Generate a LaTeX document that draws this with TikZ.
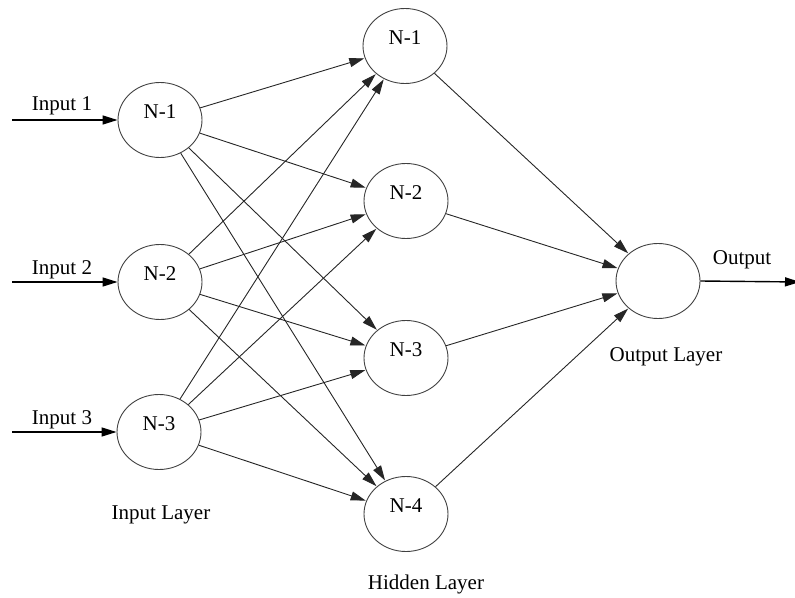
\documentclass[tikz,border=0pt]{standalone}
\usepackage{fontspec}
\setmainfont{Liberation Serif}
\usetikzlibrary{arrows.meta,shapes.geometric}
\begin{document}
\begin{tikzpicture}[x=1pt,y=-1pt,
  neuron/.style={draw=black!75,line width=0.9pt,ellipse,minimum width=84pt,minimum height=75pt,inner sep=0pt},
  nlabel/.style={inner sep=0pt,font=\fontsize{21}{25}\selectfont},
  txt/.style={inner sep=0pt,font=\fontsize{21}{25}\selectfont},
  edge/.style={draw=black!85,line width=0.9pt,-{Triangle[length=15pt,width=9pt]},shorten >=0.5pt},
  io/.style={draw=black,line width=1.4pt,-{Triangle[length=15pt,width=9pt]}}]
\useasboundingbox (0,0) rectangle (795,597);
% input layer
\node[neuron] (i1) at (160,120) {};
\node[neuron] (i2) at (160,282) {};
\node[neuron] (i3) at (159,432) {};
% hidden layer
\node[neuron] (h1) at (405,46) {};
\node[neuron] (h2) at (406,201) {};
\node[neuron] (h3) at (406,358) {};
\node[neuron] (h4) at (406,514) {};
% output
\node[neuron] (o) at (658,281) {};
% node labels
\node[nlabel] (i1t) at ([yshift=8pt]i1.center) {N-1};
\node[nlabel] (i2t) at ([yshift=8pt]i2.center) {N-2};
\node[nlabel] (i3t) at ([yshift=8pt]i3.center) {N-3};
\node[nlabel] (h1t) at ([yshift=8pt]h1.center) {N-1};
\node[nlabel] (h2t) at ([yshift=8pt]h2.center) {N-2};
\node[nlabel] (h3t) at ([yshift=8pt]h3.center) {N-3};
\node[nlabel] (h4t) at ([yshift=8pt]h4.center) {N-4};
% connections
\foreach \a in {i1,i2,i3}{
  \foreach \b in {h1,h2,h3,h4}{
    \draw[edge] (\a) -- (\b);
  }
}
\foreach \b in {h1,h2,h3,h4}{
  \draw[edge] (\b) -- (o);
}
% inputs
\coordinate (in1) at (12,120);
\coordinate (in2) at (12,282);
\coordinate (in3) at (12,432);
\draw[io] (in1) -- (i1);
\draw[io] (in2) -- (i2);
\draw[io] (in3) -- (i3);
\node[txt] (l1) at (62,106) {Input 1};
\node[txt] (l2) at (62,270) {Input 2};
\node[txt] (l3) at (62,420) {Input 3};
% output
\coordinate (out) at (800,282);
\draw[io] (o.east) -- (out);
\node[txt] (lo) at (742,260) {Output};
% layer labels
\node[txt] (il) at (161,515) {Input Layer};
\node[txt] (hl) at (426,584) {Hidden Layer};
\node[txt] (ol) at (666,357) {Output Layer};
\end{tikzpicture}
\end{document}
